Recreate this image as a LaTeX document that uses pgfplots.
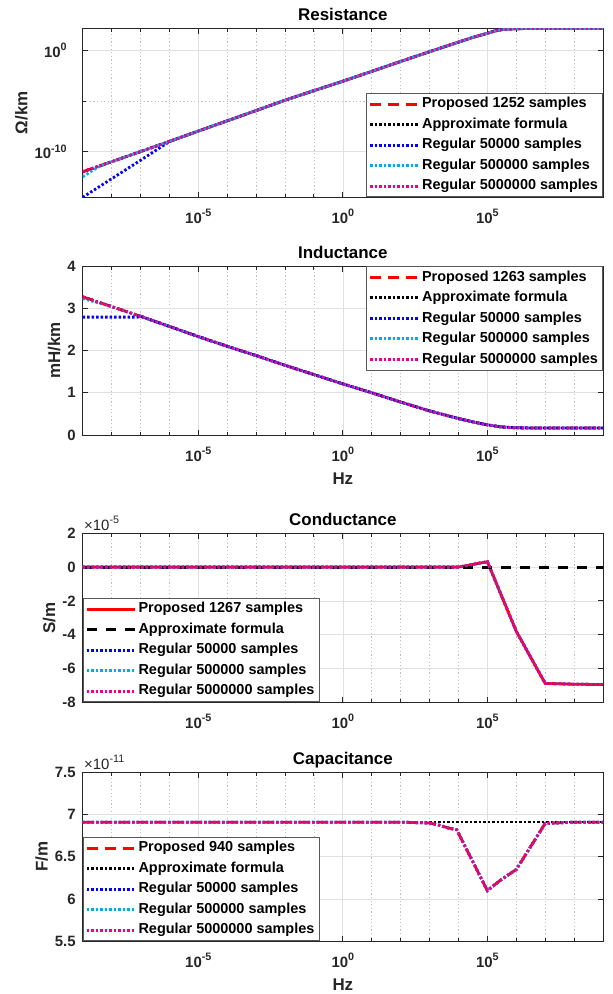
\documentclass[border=0pt]{standalone}
\usepackage{fontspec}
\setmainfont{Liberation Sans}
\usepackage{pgfplots}
\pgfplotsset{compat=1.18}
\definecolor{axc}{RGB}{38,38,38}
\newcommand{\sps}[1]{\raisebox{6.5bp}{\fontsize{10.8}{12}\selectfont #1}}

\pgfplotsset{
  every axis/.append style={
    scale only axis, width=520.3bp, height=169bp,
    xmin=1e-9, xmax=1e9,
    xtick={1e-5,1,1e5},
    xticklabels={10\sps{-5},10\sps{0},10\sps{5}},
    minor xtick={1e-8,1e-7,1e-6,1e-4,1e-3,1e-2,1e-1,1e1,1e2,1e3,1e4,1e6,1e7,1e8},
    grid=both,
    major grid style={draw=black!12, line width=0.7bp},
    minor grid style={draw=black!25, line width=0.6bp, dash pattern=on 1.2bp off 2.4bp},
    axis line style={draw=axc, line width=0.9bp},
    tick style={draw=axc, line width=0.9bp},
    major tick length=5.5bp, minor tick length=3.5bp,
    tick align=inside,
    tick label style={font=\fontsize{15}{18}\selectfont\bfseries, text=axc},
    xticklabel style={anchor=base, yshift=-26bp},
    yticklabel style={xshift=-3.5bp},
    title style={font=\fontsize{17}{20}\selectfont\bfseries, at={(0.5,1)}, anchor=base, yshift=1.5bp},
    label style={font=\fontsize{17}{20}\selectfont\bfseries, text=axc},
    xlabel style={at={(axis description cs:0.5,0)}, anchor=base, yshift=-49.5bp},
    legend cell align=left,
    legend image code/.code={\draw[#1] (0bp,0bp) -- (48bp,0bp);},
    legend style={font=\fontsize{14.5}{16}\selectfont\bfseries, text=black,
      draw=black!65, line width=0.9bp, fill=white,
      inner xsep=2.3bp, inner ysep=0.5bp, row sep=0bp, column sep=0bp,
      nodes={inner xsep=2.3bp, inner ysep=2.9bp, text height=11.2bp, text depth=3.5bp}},
  },
}
\tikzset{
  sprop/.style={red, line width=2.8bp, dash pattern=on 11bp off 7bp},
  spropsol/.style={red, line width=2.8bp, solid},
  sappdot/.style={black, line width=2.8bp, dash pattern=on 2.4bp off 2.1bp},
  sappdash/.style={black, line width=2.8bp, dash pattern=on 10bp off 9bp},
  srega/.style={blue, line width=2.8bp, dash pattern=on 2.4bp off 2.1bp},
  sregb/.style={cyan, line width=2.8bp, dash pattern=on 2.4bp off 2.1bp},
  sregc/.style={magenta, line width=2.8bp, dash pattern=on 2.4bp off 2.1bp},
}

\pgfplotstableread{
f R
1e-9 1.07e-12
3.16e-9 3.40e-12
1e-8 1.05e-11
1e-7 1.05e-10
1e-6 1.07e-9
1e-5 1.10e-8
1e-4 1.12e-7
1e-3 1.15e-6
1e-2 1.20e-5
1e-1 1.05e-4
1e0 8.9e-4
1e1 8.3e-3
1e2 7.9e-2
1e3 0.72
1e4 6.3
3.16e4 18.6
1e5 46.8
1.78e5 79
3.16e5 107
5.62e5 123
1e6 134
1e7 141
1e9 141
}\resmain

\pgfplotstableread{
f L
1e-9 3.27
1e-8 3.04
1e-7 2.81
1e-6 2.57
1e-5 2.33
1e-4 2.10
1e-3 1.88
1e-2 1.65
1e-1 1.43
1e0 1.21
1e1 1.00
1e2 0.78
1e3 0.57
1e4 0.39
3.16e4 0.31
1e5 0.24
3.16e5 0.19
1e6 0.17
1e7 0.165
1e9 0.165
}\indmain

\pgfplotstableread{
f G
1e-9 0
1e4 0
1e5 0.32
1e6 -3.8
1e7 -6.88
1e8 -6.93
1e9 -6.95
}\conmain

\pgfplotstableread{
f C
1e-9 6.91
1e2 6.91
1e3 6.90
2.04e3 6.876
4.57e3 6.84
8.7e3 6.82
1e5 6.10
2.75e5 6.22
1e6 6.35
1e7 6.895
1e8 6.91
1e9 6.91
}\capmain

\begin{document}
\begin{tikzpicture}
\useasboundingbox (0,0) rectangle (613bp,-994bp);

% Resistance
\begin{axis}[xmode=log, at={(82.7bp,-28.3bp)}, anchor=north west,
  title={Resistance}, ylabel={Ω/km},
  ymode=log, ymin=3.3e-15, ymax=1.45e2,
  ytick={1e-10,1}, yticklabels={10\sps{-10},10\sps{0}},
  minor ytick={1e-5},
  yticklabel style={xshift=-9bp},
  legend style={at={(1,0)}, anchor=south east}]
\addplot[sprop] table[x=f,y=R] {\resmain};
\addlegendentry{Proposed 1252 samples}
\addplot[sappdot] table[x=f,y=R] {\resmain};
\addlegendentry{Approximate formula}
\addplot[srega] coordinates {(1e-9,3.3e-15) (1e-8,2.2e-13) (1e-7,1.45e-11) (1e-6,1.0e-9) (1e-5,1.10e-8) (1e-4,1.12e-7) (1e-3,1.15e-6) (1e-2,1.20e-5) (1e-1,1.05e-4) (1e0,8.9e-4) (1e1,8.3e-3) (1e2,7.9e-2) (1e3,0.72) (1e4,6.3) (3.16e4,18.6) (1e5,46.8) (1.78e5,79) (3.16e5,107) (5.62e5,123) (1e6,134) (1e7,141) (1e9,141)};
\addlegendentry{Regular 50000 samples}
\addplot[sregb] coordinates {(1e-9,3.47e-13) (3.16e-9,2.8e-12) (1e-8,1.05e-11) (1e-7,1.05e-10) (1e-6,1.07e-9) (1e-5,1.10e-8) (1e-4,1.12e-7) (1e-3,1.15e-6) (1e-2,1.20e-5) (1e-1,1.05e-4) (1e0,8.9e-4) (1e1,8.3e-3) (1e2,7.9e-2) (1e3,0.72) (1e4,6.3) (3.16e4,18.6) (1e5,46.8) (1.78e5,79) (3.16e5,107) (5.62e5,123) (1e6,134) (1e7,141) (1e9,141)};
\addlegendentry{Regular 500000 samples}
\addplot[sregc] table[x=f,y=R] {\resmain};
\addlegendentry{Regular 5000000 samples}
\end{axis}

% Inductance
\begin{axis}[xmode=log, at={(82.7bp,-266bp)}, anchor=north west,
  title={Inductance}, ylabel={mH/km}, xlabel={Hz},
  ymin=0, ymax=4, ytick={0,1,2,3,4}, yticklabels={0,1,2,3,4},
  legend style={at={(1,1)}, anchor=north east}]
\addplot[sprop] table[x=f,y=L] {\indmain};
\addlegendentry{Proposed 1263 samples}
\addplot[sappdot] table[x=f,y=L] {\indmain};
\addlegendentry{Approximate formula}
\addplot[srega] coordinates {(1e-9,2.79) (7.9e-8,2.79) (1e-7,2.81) (1e-6,2.57) (1e-5,2.33) (1e-4,2.10) (1e-3,1.88) (1e-2,1.65) (1e-1,1.43) (1e0,1.21) (1e1,1.00) (1e2,0.78) (1e3,0.57) (1e4,0.39) (3.16e4,0.31) (1e5,0.24) (3.16e5,0.19) (1e6,0.17) (1e7,0.165) (1e9,0.165)};
\addlegendentry{Regular 50000 samples}
\addplot[sregb] coordinates {(1e-9,3.23) (1e-8,3.04) (1e-7,2.81) (1e-6,2.57) (1e-5,2.33) (1e-4,2.10) (1e-3,1.88) (1e-2,1.65) (1e-1,1.43) (1e0,1.21) (1e1,1.00) (1e2,0.78) (1e3,0.57) (1e4,0.39) (3.16e4,0.31) (1e5,0.24) (3.16e5,0.19) (1e6,0.17) (1e7,0.165) (1e9,0.165)};
\addlegendentry{Regular 500000 samples}
\addplot[sregc] table[x=f,y=L] {\indmain};
\addlegendentry{Regular 5000000 samples}
\end{axis}

% Conductance
\begin{axis}[xmode=log, at={(82.7bp,-533.3bp)}, anchor=north west,
  title={Conductance}, ylabel={S/m},
  ymin=-8, ymax=2, ytick={-8,-6,-4,-2,0,2}, yticklabels={-8,-6,-4,-2,0,2},
  legend style={at={(0,0)}, anchor=south west}]
\addplot[spropsol] table[x=f,y=G] {\conmain};
\addlegendentry{Proposed 1267 samples}
\addplot[sappdash] coordinates {(1e-9,0) (1e9,0)};
\addlegendentry{Approximate formula}
\addplot[srega] table[x=f,y=G] {\conmain};
\addlegendentry{Regular 50000 samples}
\addplot[sregb] table[x=f,y=G] {\conmain};
\addlegendentry{Regular 500000 samples}
\addplot[sregc] table[x=f,y=G] {\conmain};
\addlegendentry{Regular 5000000 samples}
\end{axis}
\node[anchor=base west, inner sep=0pt, font=\fontsize{15}{18}\selectfont, text=axc] at (84bp,-530bp) {×10\sps{-5}};

% Capacitance
\begin{axis}[xmode=log, at={(82.7bp,-772.3bp)}, anchor=north west,
  title={Capacitance}, ylabel={F/m}, xlabel={Hz},
  ymin=5.5, ymax=7.5, ytick={5.5,6,6.5,7,7.5}, yticklabels={5.5,6,6.5,7,7.5},
  legend style={at={(0,0)}, anchor=south west}]
\addplot[sprop] table[x=f,y=C] {\capmain};
\addlegendentry{Proposed 940 samples}
\addplot[sappdot] coordinates {(1e-9,6.912) (1e9,6.912)};
\addlegendentry{Approximate formula}
\addplot[srega] table[x=f,y=C] {\capmain};
\addlegendentry{Regular 50000 samples}
\addplot[sregb] table[x=f,y=C] {\capmain};
\addlegendentry{Regular 500000 samples}
\addplot[sregc] table[x=f,y=C] {\capmain};
\addlegendentry{Regular 5000000 samples}
\end{axis}
\node[anchor=base west, inner sep=0pt, font=\fontsize{15}{18}\selectfont, text=axc] at (84bp,-769bp) {×10\sps{-11}};
\end{tikzpicture}
\end{document}
